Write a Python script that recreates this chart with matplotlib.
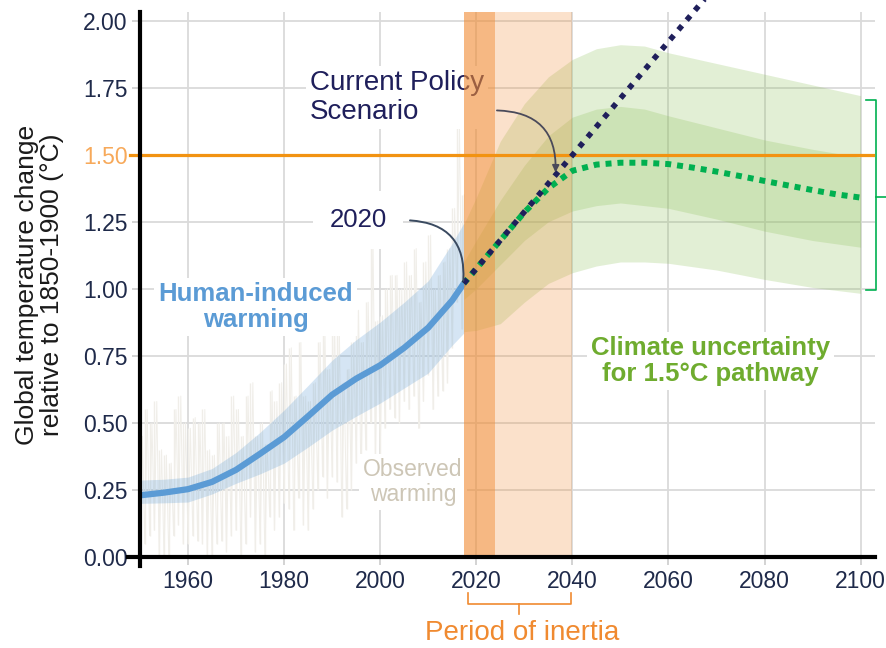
import matplotlib.pyplot as plt

plt.rcParams['font.family'] = ['Liberation Sans', 'DejaVu Sans']

# observed warming (yearly low / high of the noisy record)
obs_years = list(range(1950, 2018))
obs_hi = [0.45, 0.55, 0.50, 0.58, 0.40, 0.38, 0.35, 0.55, 0.60, 0.50,
          0.48, 0.52, 0.50, 0.55, 0.40, 0.38, 0.50, 0.50, 0.45, 0.60,
          0.55, 0.45, 0.60, 0.65, 0.45, 0.50, 0.42, 0.62, 0.58, 0.65,
          0.72, 0.78, 0.60, 0.80, 0.60, 0.58, 0.65, 0.80, 0.85, 0.70,
          0.90, 0.85, 0.65, 0.70, 0.80, 0.92, 0.80, 0.95, 1.20, 0.88,
          0.90, 1.00, 1.05, 1.05, 1.00, 1.10, 1.05, 1.15, 0.95, 1.10,
          1.20, 1.00, 1.05, 1.10, 1.15, 1.30, 1.60, 1.35]
obs_lo = [0.00, 0.05, 0.08, 0.10, 0.00, 0.00, 0.00, 0.08, 0.12, 0.05,
          0.05, 0.08, 0.06, 0.05, 0.00, 0.00, 0.05, 0.06, 0.02, 0.08,
          0.10, 0.00, 0.05, 0.15, 0.02, 0.05, 0.00, 0.15, 0.10, 0.15,
          0.20, 0.18, 0.10, 0.22, 0.12, 0.10, 0.18, 0.25, 0.30, 0.22,
          0.30, 0.28, 0.15, 0.18, 0.25, 0.35, 0.28, 0.40, 0.50, 0.35,
          0.38, 0.48, 0.55, 0.52, 0.50, 0.58, 0.55, 0.60, 0.48, 0.58,
          0.68, 0.55, 0.60, 0.62, 0.65, 0.78, 0.95, 0.85]

# human-induced warming
hum_years = [1950, 1955, 1960, 1965, 1970, 1975, 1980, 1985, 1990, 1995, 2000, 2005, 2010, 2015, 2017.4]
hum_mid = [0.23, 0.24, 0.253, 0.28, 0.325, 0.385, 0.447, 0.525, 0.605, 0.665, 0.715, 0.78, 0.855, 0.957, 1.02]
hum_hi = [0.287, 0.29, 0.298, 0.33, 0.39, 0.465, 0.548, 0.64, 0.734, 0.81, 0.876, 0.95, 1.03, 1.17, 1.245]
hum_lo = [0.20, 0.202, 0.205, 0.235, 0.275, 0.31, 0.35, 0.41, 0.473, 0.525, 0.574, 0.63, 0.686, 0.79, 0.835]

# 1.5C pathway uncertainty
path_years = [2017.4, 2020, 2025, 2030, 2035, 2040, 2045, 2050, 2055, 2060, 2070, 2080, 2090, 2100]
outer_hi = [1.24, 1.34, 1.55, 1.69, 1.79, 1.855, 1.895, 1.91, 1.905, 1.88, 1.84, 1.80, 1.76, 1.72]
inner_hi = [1.10, 1.18, 1.33, 1.46, 1.57, 1.64, 1.67, 1.68, 1.67, 1.645, 1.60, 1.555, 1.52, 1.49]
inner_lo = [0.96, 1.00, 1.09, 1.18, 1.25, 1.29, 1.31, 1.32, 1.31, 1.30, 1.26, 1.215, 1.18, 1.155]
outer_lo = [0.84, 0.845, 0.87, 0.95, 1.02, 1.06, 1.085, 1.10, 1.10, 1.095, 1.07, 1.035, 1.005, 0.983]

green_years = [2017.4, 2020, 2025, 2030, 2035, 2040, 2045, 2050, 2055, 2060, 2065, 2070, 2075, 2080, 2085, 2090, 2095, 2100]
green_mid = [1.02, 1.075, 1.18, 1.285, 1.375, 1.44, 1.463, 1.47, 1.47, 1.465, 1.452, 1.437, 1.42, 1.402, 1.385, 1.368, 1.352, 1.34]

# current policy scenario
policy_years = [2017.4, 2067.5]
policy_vals = [1.02, 2.08]

xticks = [1960, 1980, 2000, 2020, 2040, 2060, 2080, 2100]
yticks = [0, 0.25, 0.5, 0.75, 1.0, 1.25, 1.5, 1.75, 2.0]

navy = '#1f1f5b'
orange = '#f29312'
blue = '#5b9bd5'
green = '#00b050'

fig = plt.figure(figsize=(8.87, 6.48), dpi=100)
ax = fig.add_axes([0.1578, 0.1404, 0.8287, 0.8411])

ax.set_xlim(1950, 2103)
ax.set_ylim(0, 2.032)
ax.set_axisbelow(True)
ax.grid(True, color='#dadada', lw=1.3)

# observed warming noise
zig_x = []
zig_y = []
for yr, lo, hi in zip(obs_years, obs_lo, obs_hi):
    zig_x += [yr, yr + 0.5]
    zig_y += [lo, hi]
ax.vlines(obs_years, obs_lo, obs_hi, color='#f0eee9', lw=1.0, zorder=1)
ax.plot(zig_x, zig_y, color='#f0eee9', lw=0.7, zorder=1)

# human-induced
ax.fill_between(hum_years, hum_lo, hum_hi, color=blue, alpha=0.25, lw=0, zorder=2)
ax.plot(hum_years, hum_mid, color=blue, lw=4.5, solid_capstyle='butt',
        solid_joinstyle='round', zorder=3)

# pathway bands
ax.fill_between(path_years, outer_lo, outer_hi, color='#8dc15a', alpha=0.25, lw=0, zorder=2)
ax.fill_between(path_years, inner_lo, inner_hi, color='#8dc15a', alpha=0.25, lw=0, zorder=2)

# period of inertia
ax.axvspan(2017.4, 2024, color='#f08a30', alpha=0.6, lw=0, zorder=4)
ax.axvspan(2024, 2040, color='#f08a30', alpha=0.25, lw=0, zorder=4)

# 1.5 line
ax.plot([-0.014, 0.997], [1.5, 1.5], transform=ax.get_yaxis_transform(),
        color=orange, lw=2.3, clip_on=False, zorder=5)

ax.plot(green_years, green_mid, color=green, lw=4.3, linestyle=(0, (1, 1)),
        dash_capstyle='butt', zorder=6)
ax.plot(policy_years, policy_vals, color=navy, lw=4, linestyle=(0, (1, 1.3)),
        dash_capstyle='butt', clip_on=False, zorder=7)

# texts
box = dict(facecolor='white', edgecolor='none', pad=3)
ax.text(1985.4, 1.714, 'Current Policy\nScenario', color=navy, fontsize=20,
        ha='left', va='center', linespacing=1.15, bbox=box, zorder=3.5)
ax.text(1995.4, 1.256, '2020', color=navy, fontsize=18.5, ha='center', va='center',
        bbox=dict(facecolor='white', edgecolor='none', pad=12), zorder=3.5)
ax.text(1974.1, 0.931, 'Human-induced\nwarming', color=blue, fontsize=18.5,
        fontweight='bold', ha='center', va='center', linespacing=1.1, bbox=box, zorder=3.5)
ax.text(2068.8, 0.73, 'Climate uncertainty\nfor 1.5°C pathway', color='#6fac2f', fontsize=18.5,
        fontweight='bold', ha='center', va='center', linespacing=1.1, bbox=box, zorder=3.5)
ax.text(2006.8, 0.279, 'Observed\nwarming', color='#cdc6b6', fontsize=16.5,
        ha='center', va='center', linespacing=1.1, bbox=box, zorder=3.5)

ax.annotate('', xy=(2017.3, 1.03), xytext=(2006.2, 1.255),
            arrowprops=dict(arrowstyle='-', color='#3a4a60', lw=1.4,
                            connectionstyle='arc3,rad=-0.5', shrinkA=0, shrinkB=0),
            zorder=8)
ax.annotate('', xy=(2036.5, 1.434), xytext=(2024.3, 1.665),
            arrowprops=dict(arrowstyle='-|>,head_length=0.4,head_width=0.2', color='#4a4a5a', lw=1.3,
                            connectionstyle='arc3,rad=-0.5', shrinkA=0, shrinkB=0),
            zorder=8)

# brackets
xt = ax.get_xaxis_transform()
ax.plot([2018.2, 2018.2, 2039.7, 2039.7], [-0.066, -0.086, -0.086, -0.066],
        transform=xt, color='#f08a30', lw=1.2, clip_on=False)
ax.plot([2028.9, 2028.9], [-0.086, -0.104], transform=xt, color='#f08a30', lw=1.2, clip_on=False)
fig.text(0.5885, 0.023, 'Period of inertia', color='#f08a30', fontsize=20, ha='center', va='center')

ax.plot([2101.2, 2103.3, 2103.3, 2101.2], [1.703, 1.703, 0.995, 0.995],
        color=green, lw=1.2, clip_on=False)
ax.plot([2103.3, 2105.4], [1.341, 1.341], color=green, lw=1.2, clip_on=False)

# axes styling
for s in ['top', 'right']:
    ax.spines[s].set_visible(False)
for s in ['left', 'bottom']:
    ax.spines[s].set_linewidth(3)
    ax.spines[s].set_zorder(9)
ax.plot([-0.016, 0], [0, 0], transform=ax.transAxes, color='black', lw=3, clip_on=False)
ax.plot([0, 0], [-0.016, 0], transform=ax.transAxes, color='black', lw=3, clip_on=False)

ax.set_xticks(xticks)
ax.set_yticks(yticks)
ax.set_yticklabels(['%.2f' % v for v in yticks])
ax.tick_params(axis='both', colors='#d0d0d0', labelcolor='#1f2a4a', labelsize=16.5,
               length=6, width=1.3, pad=3)
for lab in ax.get_yticklabels():
    if lab.get_text() == '1.50':
        lab.set_color('#f7a95a')

fig.text(0.0445, 0.56, 'Global temperature change\nrelative to 1850-1900 (°C)',
         rotation=90, fontsize=19, color='#1a1a1a', ha='center', va='center', linespacing=1.05)

fig.savefig('out.png', dpi=100)
